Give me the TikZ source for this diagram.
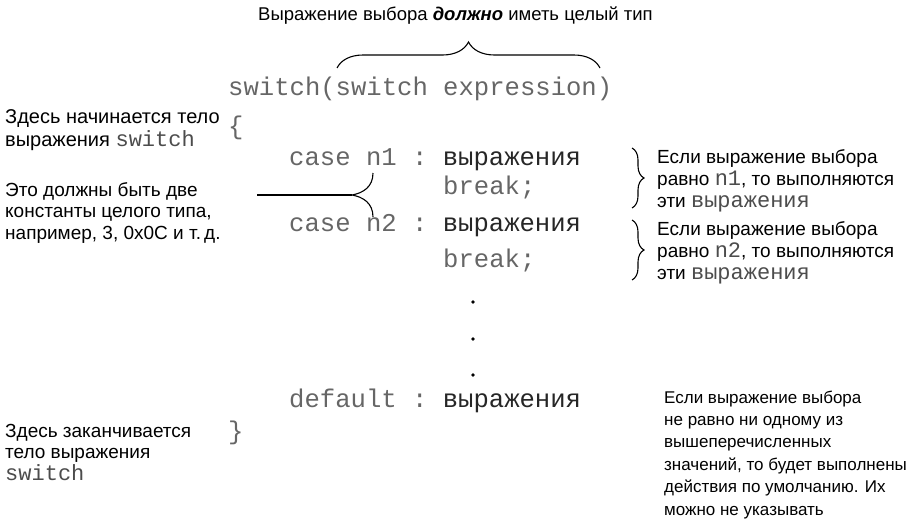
\documentclass[tikz,border=0pt]{standalone}
\usepackage{fontspec}
\setmainfont{Liberation Sans}
\setmonofont{Liberation Mono}
\usetikzlibrary{decorations.pathreplacing}
\tikzset{
  note/.style={anchor=north west, inner sep=0pt, align=left,
    font=\fontsize{19}{21.5}\selectfont},
  small note/.style={note, font=\fontsize{17}{22.4}\selectfont},
  code/.style={anchor=base west, inner sep=0pt, text=black!60,
    font=\fontsize{25.6}{30}\selectfont\ttfamily},
  brc/.style={decorate, line width=1.1pt, decoration={brace, amplitude=#1}},
  lnk/.style={line width=1.1pt}
}
\newcommand{\cd}[1]{{\fontsize{22}{21.5}\selectfont\ttfamily\color{black!70}#1}}
\newcommand{\ru}[1]{\textcolor{black!85}{#1}}

\begin{document}
\begin{tikzpicture}[x=1pt, y=-1pt]
\useasboundingbox (0,0) rectangle (917,522);

% heading and code
\node[note, anchor=base west, font=\fontsize{18.5}{22}\selectfont] (ttl) at (258,20)
  {Выражение выбора \textbf{\textit{должно}} иметь целый тип};
\node[code] (sw) at (228,95) {switch(switch expression)};
\node[code] (lbr) at (228,134) {\{};
\node[code] (c1) at (289,165) {case n1 : \ru{выражения}};
\node[code] (b1) at (443,194) {break;};
\node[code] (c2) at (289,231) {case n2 : \ru{выражения}};
\node[code] (b2) at (443,267) {break;};
\foreach \y in {302,339,375}
  \fill (473,\y) circle (1.9pt);
\node[code] (dflt) at (289,407) {default : \ru{выражения}};
\node[code] (rbr) at (228,439) {\}};

% notes on the left
\node[note, font=\fontsize{20}{23}\selectfont] (nA) at (5,109.5)
  {Здесь начинается тело\\выражения \cd{switch}};
\node[note] (nB) at (5,182)
  {Это должны быть две\\константы целого типа,\\например, 3, 0x0C и т.\,д.};
\node[note] (nC) at (5,424) {Здесь заканчивается\\тело выражения\\\cd{switch}};

% notes on the right
\node[note, font=\fontsize{19}{22.4}\selectfont] (r1) at (657,149)
  {Если выражение выбора\\равно \cd{n1}, то выполняются\\эти \cd{выражения}};
\node[note, font=\fontsize{19}{22.4}\selectfont] (r2) at (657,221)
  {Если выражение выбора\\равно \cd{n2}, то выполняются\\эти \cd{выражения}};
\node[small note] (r3) at (664,390.5)
  {Если выражение выбора\\не равно ни одному из\\вышеперечисленных\\значений, то будет выполнены\\действия по умолчанию. Их\\можно не указывать};

% braces
\coordinate (tL) at (337,68);
\coordinate (tR) at (600,68);
\draw[brc=26pt] (tL) -- (tR);
\coordinate (a1) at (632,148);
\coordinate (a2) at (632,208);
\draw[brc=12pt] (a1) -- (a2);
\coordinate (d1) at (632,220);
\coordinate (d2) at (632,280);
\draw[brc=12pt] (d1) -- (d2);

% fork to n1 and n2
\coordinate (ln) at (257,195);
\coordinate (fk) at (352,195);
\coordinate (f1) at (373,173);
\coordinate (f2) at (373,217);
\draw[lnk] (ln) -- (fk);
\draw[lnk] (f1) .. controls (373,187) and (363,193) .. (fk)
  .. controls (363,197) and (373,203) .. (f2);
\end{tikzpicture}
\end{document}
